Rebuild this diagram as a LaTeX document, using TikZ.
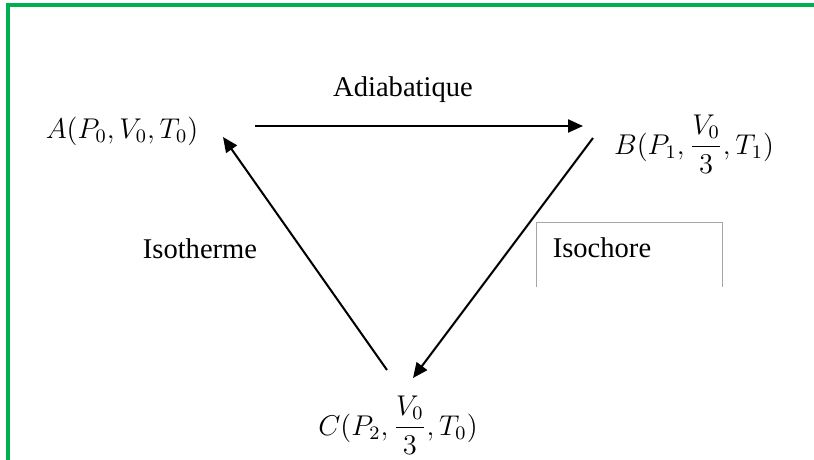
\documentclass[tikz,border=0pt]{standalone}
\usepackage{fontspec}
\setmainfont{Liberation Serif}
\usetikzlibrary{arrows.meta}
\definecolor{framegreen}{HTML}{00B050}
\definecolor{boxgray}{HTML}{A6A6A6}
\begin{document}
\begin{tikzpicture}[x=0.42pt, y=-0.42pt, font=\rmfamily\fontsize{12}{14}\selectfont,
        flow/.style={line width=0.85pt, -{Triangle[length=6.3pt, width=5.5pt]}}]
        \useasboundingbox (0,0) rectangle (814,459);
        \draw[framegreen, line width=1.3pt] (8,480) -- (8,5) -- (840,5);
        \draw[boxgray, line width=0.4pt] (536,287) -- (536,222) -- (722,222) -- (722,287);
        \node[anchor=base] (A) at (122,138) {$A(P_0,V_0,T_0)$};
        \node[anchor=base] (B) at (694,154) {$\displaystyle B(P_1,\frac{V_0}{3},T_1)$};
        \node[anchor=base] (C) at (398,435) {$\displaystyle C(P_2,\frac{V_0}{3},T_0)$};
        \node (adia) at (403,90) {Adiabatique};
        \node (isoT) at (200,249) {Isotherme};
        \node (isoV) at (602,248) {Isochore};
        \coordinate (ab0) at (255,126); \coordinate (ab1) at (583,126);
        \coordinate (bc0) at (593,138); \coordinate (bc1) at (413,378);
        \coordinate (ca0) at (387,370); \coordinate (ca1) at (223,137);
        \foreach \s/\e in {ab0/ab1, bc0/bc1, ca0/ca1}{
            \draw[flow] (\s) -- (\e);
        }
    \end{tikzpicture}
\end{document}
